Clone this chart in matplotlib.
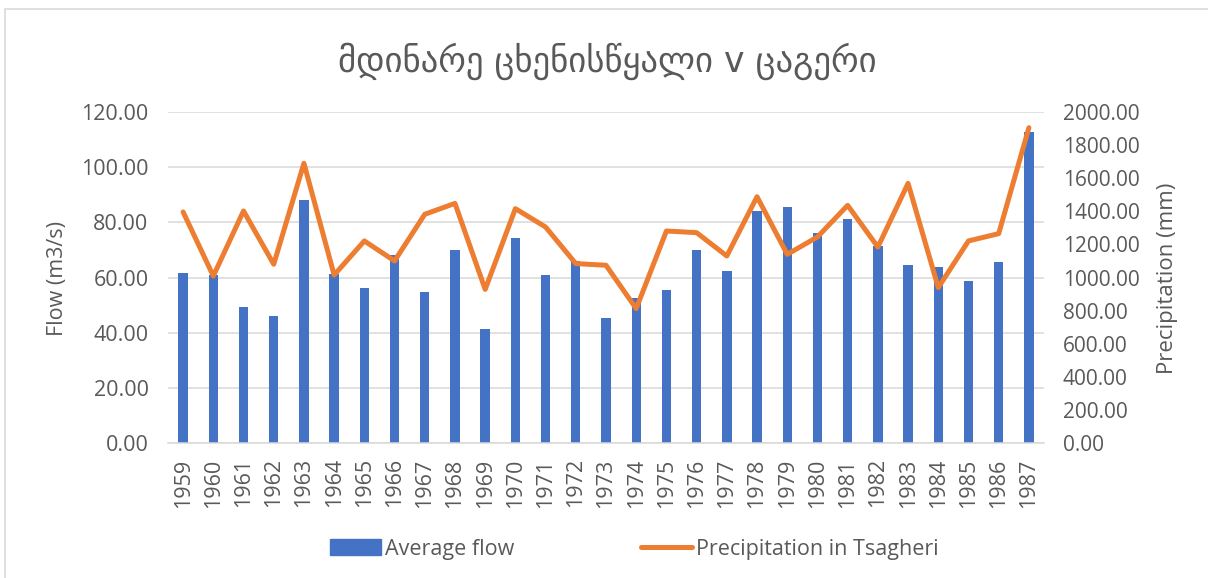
import matplotlib
matplotlib.use('Agg')
import matplotlib.pyplot as plt
import numpy as np
from matplotlib.patches import Rectangle
from matplotlib.lines import Line2D
from matplotlib.ticker import MultipleLocator, FormatStrFormatter

plt.rcParams['font.family'] = ['Open Sans', 'DejaVu Sans']

# data
years = [str(y) for y in range(1959, 1988)]
avg_flow = [61.5, 61.0, 49.4, 46.0, 88.1, 61.1, 56.3, 68.2, 54.6, 70.1,
            41.3, 74.4, 60.9, 66.1, 45.3, 52.7, 55.3, 69.8, 62.2, 84.0,
            85.7, 76.0, 81.2, 71.4, 64.7, 63.8, 58.7, 65.6, 112.7]
precip = [1396, 1009, 1402, 1080, 1690, 1015, 1221, 1100, 1382, 1448,
          928, 1416, 1305, 1084, 1074, 812, 1281, 1271, 1130, 1488,
          1140, 1245, 1436, 1184, 1569, 939, 1221, 1265, 1905]

title = 'მდინარე ცხენისწყალი v ცაგერი'
blue = '#4472C4'
orange = '#ED7D31'
grey = '#595959'
gridc = '#D9D9D9'

W, H = 1208, 578
fig = plt.figure(figsize=(W / 100, H / 100), dpi=100)
# axes box in pixels: left 168, right 1044, top 112, bottom 443
ax = fig.add_axes([168 / W, 1 - 443 / H, (1044 - 168) / W, (443 - 112) / H])
ax2 = ax.twinx()

x = np.arange(len(years))
ax.bar(x, avg_flow, width=0.31, color=blue, zorder=2)
ax2.plot(x, precip, color=orange, lw=3.6, solid_joinstyle='round',
         solid_capstyle='round', zorder=3)

ax.set_xlim(-0.5, len(years) - 0.5)
ax.set_ylim(0, 120)
ax2.set_ylim(0, 2000)
ax.yaxis.set_major_locator(MultipleLocator(20))
ax2.yaxis.set_major_locator(MultipleLocator(200))
ax.yaxis.set_major_formatter(FormatStrFormatter('%.2f'))
ax2.yaxis.set_major_formatter(FormatStrFormatter('%.2f'))
ax.set_xticks(x)
ax.set_xticklabels(years, rotation=90)

ax.grid(axis='y', color=gridc, lw=1.1, zorder=0)
ax.set_axisbelow(True)
for a in (ax, ax2):
    for s in a.spines.values():
        s.set_visible(False)
ax.spines['bottom'].set_visible(True)
ax.spines['bottom'].set_color(gridc)
ax.spines['bottom'].set_linewidth(1.1)

ax.tick_params(axis='y', length=0, pad=14, labelsize=15.5, labelcolor=grey)
ax.tick_params(axis='x', length=0, pad=11, labelsize=15.5, labelcolor=grey)
ax2.tick_params(axis='y', length=0, pad=13.5, labelsize=15, labelcolor=grey)
ax2.set_zorder(ax.get_zorder() + 1)
ax2.patch.set_visible(False)

fig.text(607 / W, 1 - 61 / H, title, ha='center', va='center', fontsize=25,
         color=grey, family=['DejaVu Sans'])
fig.text(57 / W, 1 - 278 / H, 'Flow (m3/s)', rotation=90, ha='center',
         va='center', fontsize=15.5, color=grey)
fig.text(1167 / W, 1 - 278 / H, 'Precipitation (mm)', rotation=90,
         ha='center', va='center', fontsize=16, color=grey)

handles = [Rectangle((0, 0), 1, 1, color=blue),
           Line2D([0], [0], color=orange, lw=3.6, solid_capstyle='round')]
leg = fig.legend(handles, ['Average flow', 'Precipitation in Tsagheri'],
                 loc='center', bbox_to_anchor=(634 / W, 1 - 549 / H), ncol=2,
                 frameon=False, fontsize=15.5, handlelength=2.4,
                 handleheight=0.8, handletextpad=0.15, columnspacing=5.9)
for t in leg.get_texts():
    t.set_color(grey)

# chart area border
fig.patches.append(Rectangle((5 / W, -0.05), 1.1, 1 - 9 / H + 0.05,
                             transform=fig.transFigure, fill=False,
                             edgecolor=gridc, lw=1.2))

fig.savefig('out.png', dpi=100)
